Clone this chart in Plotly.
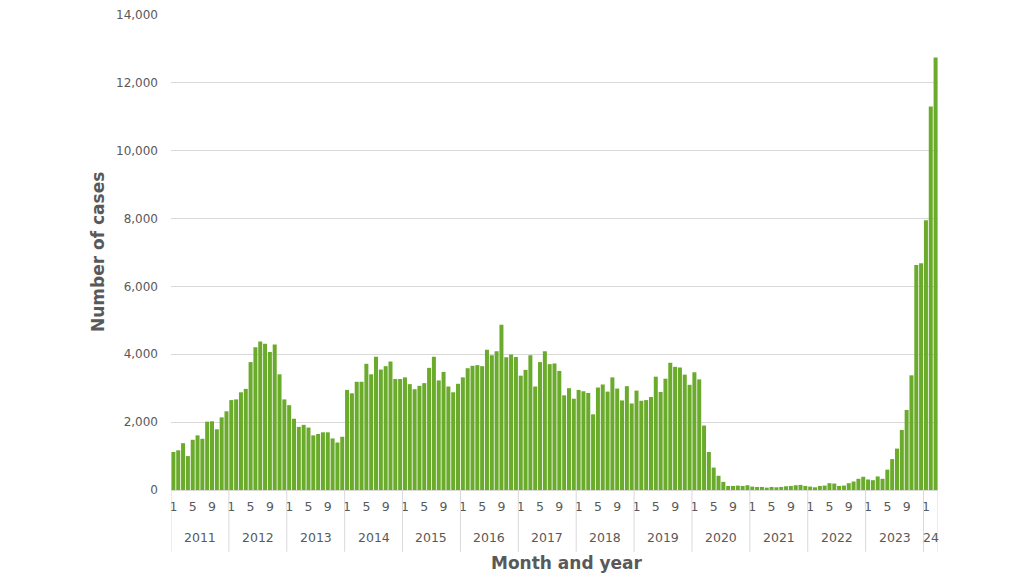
import plotly.graph_objects as go

# Monthly case counts, Jan 2011 - Mar 2024
years = ["2011", "2012", "2013", "2014", "2015", "2016", "2017", "2018",
         "2019", "2020", "2021", "2022", "2023", "24"]
cases_2011 = [1120, 1170, 1380, 1000, 1480, 1610, 1510, 2015, 2025, 1790, 2140, 2320]
cases_2012 = [2650, 2670, 2880, 2980, 3770, 4210, 4375, 4310, 4070, 4290, 3410, 2670]
cases_2013 = [2500, 2100, 1860, 1920, 1840, 1610, 1650, 1700, 1700, 1520, 1400, 1570]
cases_2014 = [2950, 2850, 3190, 3190, 3720, 3410, 3930, 3550, 3650, 3790, 3270, 3270]
cases_2015 = [3320, 3120, 2970, 3070, 3150, 3600, 3930, 3230, 3480, 3050, 2880, 3130]
cases_2016 = [3320, 3590, 3660, 3680, 3650, 4130, 3970, 4090, 4870, 3910, 3990, 3920]
cases_2017 = [3370, 3540, 3970, 3050, 3770, 4090, 3710, 3730, 3510, 2790, 3000, 2690]
cases_2018 = [2950, 2910, 2860, 2230, 3020, 3110, 2900, 3320, 2990, 2640, 3060, 2550]
cases_2019 = [2930, 2630, 2650, 2740, 3340, 2890, 3280, 3750, 3630, 3610, 3400, 3100]
cases_2020 = [3470, 3260, 1900, 1120, 660, 420, 240, 120, 120, 130, 120, 140]
cases_2021 = [100, 90, 90, 70, 90, 80, 90, 110, 120, 140, 150, 120]
cases_2022 = [100, 80, 120, 130, 200, 190, 120, 130, 200, 250, 330, 390]
cases_2023 = [310, 290, 400, 330, 600, 910, 1220, 1770, 2360, 3380, 6630, 6680]
cases_2024 = [7950, 11300, 12750]

yearly = [cases_2011, cases_2012, cases_2013, cases_2014, cases_2015, cases_2016,
          cases_2017, cases_2018, cases_2019, cases_2020, cases_2021, cases_2022,
          cases_2023, cases_2024]
month_tick_labels = ["1", "5", "9"]
y_ticks = [0, 2000, 4000, 6000, 8000, 10000, 12000, 14000]

values = [v for yr in yearly for v in yr]
x_idx = list(range(len(values)))

# tick positions (months 1, 5, 9 of each year) and year spans
tickvals, ticktext = [], []
year_start = []
pos = 0
for yr in yearly:
    year_start.append(pos)
    for m, lab in zip([0, 4, 8], month_tick_labels):
        if m < len(yr):
            tickvals.append(pos + m)
            ticktext.append(lab)
    pos += len(yr)
year_end = year_start[1:] + [pos]

GREEN = "#6aab2b"
TXT = "#595959"
GRID = "#d9d9d9"
FONT = "DejaVu Sans"

fig = go.Figure(go.Bar(
    x=x_idx, y=values,
    marker=dict(color=GREEN, line=dict(width=0)),
    hovertemplate="%{y:,}<extra></extra>",
))

shapes = []
for b in year_start + [pos]:
    shapes.append(dict(type="line", xref="x", yref="paper",
                       x0=b - 0.5, x1=b - 0.5, y0=0, y1=-0.13,
                       line=dict(color=GRID, width=1)))

annotations = []
for name, s, e in zip(years, year_start, year_end):
    annotations.append(dict(x=(s + e - 1) / 2, y=-0.099, xref="x", yref="paper",
                            text=name, showarrow=False, yanchor="middle",
                            font=dict(family=FONT, size=12.5, color=TXT)))
annotations.append(dict(x=0.516, y=-0.154, xref="paper", yref="paper",
                        text="<b>Month and year</b>", showarrow=False,
                        yanchor="middle", xanchor="center",
                        font=dict(family=FONT, size=17, color=TXT)))
annotations.append(dict(x=-0.0952, y=0.501, xref="paper", yref="paper",
                        text="<b>Number of cases</b>", showarrow=False,
                        textangle=-90, yanchor="middle", xanchor="center",
                        font=dict(family=FONT, size=17, color=TXT)))

fig.update_layout(
    width=1024, height=576,
    margin=dict(l=163, r=94, t=7, b=94, autoexpand=False),
    paper_bgcolor="white", plot_bgcolor="white",
    bargap=0.17,
    showlegend=False,
    shapes=shapes,
    annotations=annotations,
    font=dict(family=FONT, color=TXT, size=12),
)
fig.update_xaxes(
    range=[-0.5, pos - 0.5], automargin=False,
    tickmode="array", tickvals=tickvals, ticktext=ticktext,
    showgrid=False, zeroline=False, showline=False,
    ticks="", ticklabelstandoff=7,
    tickfont=dict(family=FONT, size=12.5, color=TXT),
)
fig.update_yaxes(
    range=[0, 14000], automargin=False, tickmode="array", tickvals=y_ticks,
    tickformat=",", showgrid=True, gridcolor=GRID, gridwidth=1,
    zeroline=True, zerolinecolor=GRID, zerolinewidth=1,
    showline=False, ticks="", ticklabelstandoff=12,
    ticklabeloverflow="allow",
    tickfont=dict(family=FONT, size=12, color=TXT),
)

fig.write_html("out.html")
